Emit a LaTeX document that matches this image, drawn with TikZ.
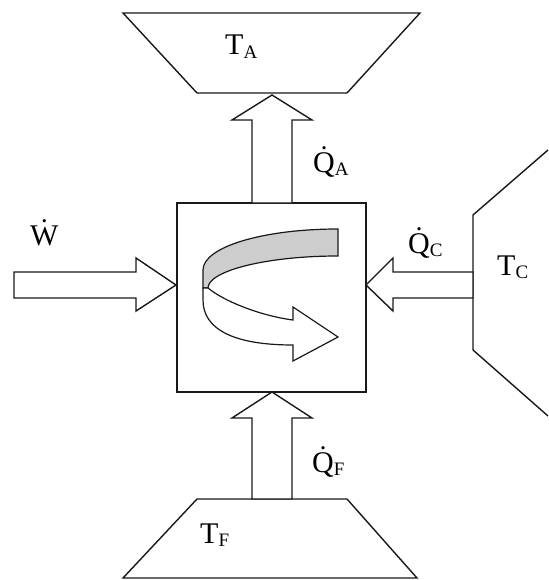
\documentclass[tikz,border=0pt]{standalone}
\usepackage{fontspec}
\setmainfont{Liberation Serif}
\usetikzlibrary{positioning}
\definecolor{ribbongray}{HTML}{CDCDCD}
\newcommand{\rate}[1]{{\accent"02D9 #1}}
\newcommand{\idx}[1]{\raisebox{-0.12em}{\fontsize{19}{19}\selectfont #1}}

\begin{document}
\begin{tikzpicture}[x=1pt, y=-1pt, line join=miter,
    edge/.style={draw=black!90, line width=1.4pt},
    lbl/.style={anchor=base west, inner sep=0pt, font=\fontsize{30}{30}\selectfont}]
    \useasboundingbox (0,0) rectangle (548,580);

    % reservoirs
    \draw[edge] (123,13) -- (420,13) -- (347,93) -- (197,93) -- cycle;
    \draw[edge] (123,578) -- (197,499) -- (347,499) -- (417,578) -- cycle;
    \draw[edge] (548,150) -- (473,215) -- (473,350) -- (548,416);

    % engine
    \node[edge, fill=white, minimum size=189pt, inner sep=0pt] (engine) at (271.5,297.5) {};

    % block arrows
    \draw[edge, fill=white] (272,95) -- (312,120) -- (292,120) -- (292,203) -- (252,203) -- (252,120) -- (232,120) -- cycle;
    \draw[edge, fill=white] (272,392) -- (312,418) -- (292,418) -- (292,499) -- (252,499) -- (252,418) -- (232,418) -- cycle;
    \draw[edge, fill=white] (176,285) -- (136,258) -- (136,272) -- (14,272) -- (14,298) -- (136,298) -- (136,311) -- cycle;
    \draw[edge, fill=white] (366,285) -- (393,258) -- (393,272) -- (473,272) -- (473,298) -- (393,298) -- (393,311) -- cycle;

    % ribbon arrow
    \draw[edge, line width=1.2pt, fill=ribbongray] (338,229) -- (338,256) .. controls (266,256) and (208,271) .. (208,288) -- (203,288) -- (203,270) .. controls (203,247) and (263,229) .. (338,229) -- cycle;
    \draw[edge, line width=1.2pt, fill=white] (208,288) .. controls (225,302) and (262,316) .. (293,320) -- (293,307) -- (338,337) -- (293,361) -- (293,345) .. controls (235,345) and (203,330) .. (203,300) -- (203,288) -- cycle;

    \node[lbl] (ta) at (225,55) {T\idx{A}};
    \node[lbl] (qa) at (313,172) {\rate{Q}\idx{A}};
    \node[lbl] (w) at (30,245) {\rate{W}};
    \node[lbl] (qc) at (408,253) {\rate{Q}\idx{C}};
    \node[lbl] (tc) at (497,275) {T\idx{C}};
    \node[lbl] (qf) at (312,472) {\rate{Q}\idx{F}};
    \node[lbl] (tf) at (200,543) {T\idx{F}};
\end{tikzpicture}
\end{document}
